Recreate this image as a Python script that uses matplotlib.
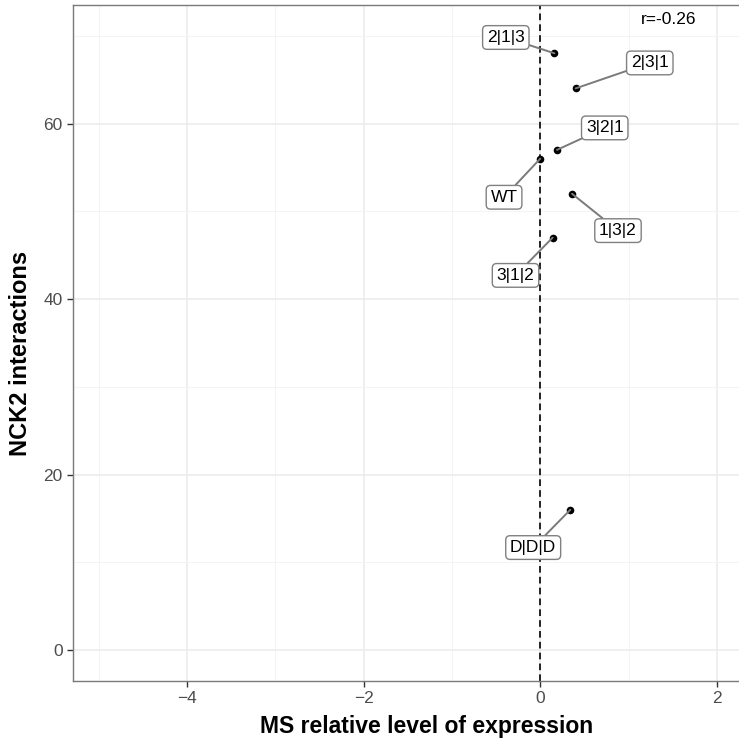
import matplotlib
matplotlib.use("Agg")
import matplotlib.pyplot as plt
import numpy as np

# data
labels = ["2|1|3", "2|3|1", "3|2|1", "WT", "1|3|2", "3|1|2", "D|D|D"]
expr = [0.16, 0.40, 0.19, 0.0, 0.36, 0.14, 0.34]
interactions = [68, 64, 57, 56, 52, 47, 16]
# where the repelled labels ended up
label_x = [-0.39, 1.24, 0.73, -0.41, 0.88, -0.28, -0.08]
label_y = [69.8, 66.9, 59.5, 51.6, 47.8, 42.7, 11.7]
r_text = "r=-0.26"

plt.rcParams['font.family'] = ["Liberation Sans", "DejaVu Sans"]

fig = plt.figure(figsize=(7.39, 7.38), dpi=100)
ax = fig.add_axes([73 / 739, 1 - 681 / 738, 1 - 73 / 739, (681 - 5) / 738])

ax.set_xlim(-5.29, 2.25)
ax.set_ylim(-3.5, 73.5)

ax.set_xticks([-4, -2, 0, 2])
ax.set_xticks([-5, -3, -1, 1], minor=True)
ax.set_yticks([0, 20, 40, 60])
ax.set_yticks([10, 30, 50, 70], minor=True)
ax.set_xticklabels(["\u22124", "\u22122", "0", "2"])

ax.grid(which="major", color="#EBEBEB", linewidth=1.1)
ax.grid(which="minor", color="#F3F3F3", linewidth=0.6)
ax.set_axisbelow(True)

for s in ["left", "bottom", "top"]:
    ax.spines[s].set_color("#7A7A7A")
    ax.spines[s].set_linewidth(1.0)
ax.spines["right"].set_visible(False)

ax.tick_params(which="major", length=4.5, width=1, color="#333333",
               labelsize=12.5, labelcolor="#4D4D4D", pad=3)
ax.tick_params(which="minor", length=0)

ax.axvline(0, color="black", linestyle=(0, (4, 2.5)), linewidth=1.2, zorder=2)

ax.scatter(expr, interactions, s=20, color="black", zorder=4)

for lab, x, y, tx, ty in zip(labels, expr, interactions, label_x, label_y):
    ax.annotate(lab, xy=(x, y), xytext=(tx, ty), ha="center", va="center",
                fontsize=12.5, color="black", zorder=5,
                bbox=dict(boxstyle="round,pad=0.25,rounding_size=0.25",
                          fc="white", ec="#808080", lw=1.0),
                arrowprops=dict(arrowstyle="-", color="#7A7A7A", lw=1.4,
                                shrinkA=0, shrinkB=0))

ax.text(1.45, 71.8, r_text, ha="center", va="center", fontsize=12.5, color="black")

ax.set_xlabel("MS relative level of expression", fontsize=16.5, fontweight="bold",
              labelpad=6)
ax.set_ylabel("NCK2 interactions", fontsize=17, fontweight="bold",
              labelpad=8)
# the original panel runs past the right edge of the picture,
# so the titles sit off the visible centre
ax.xaxis.label.set_x(0.5315)
ax.yaxis.label.set_y(0.484)

fig.savefig("out.png", dpi=100)
